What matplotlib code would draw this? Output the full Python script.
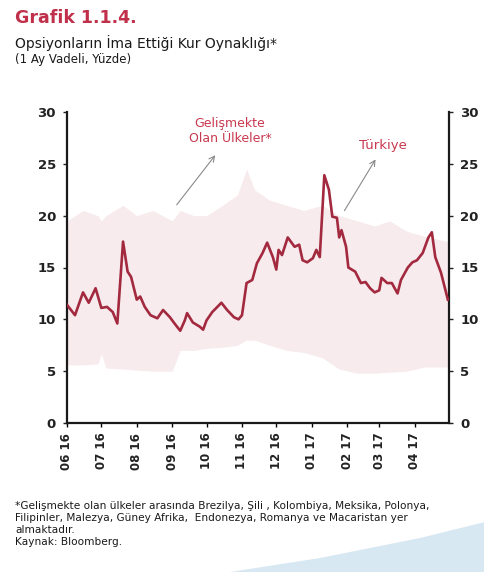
import matplotlib
matplotlib.use("Agg")
import matplotlib.pyplot as plt
from matplotlib.patches import Polygon
import pandas as pd

# ---- data ----
tr_dates = ["2016-06-01","2016-06-08","2016-06-15","2016-06-20","2016-06-26","2016-07-01",
            "2016-07-06","2016-07-11","2016-07-15","2016-07-20","2016-07-24","2016-07-27",
            "2016-08-01","2016-08-04","2016-08-08","2016-08-13","2016-08-19","2016-08-24",
            "2016-08-30","2016-09-03","2016-09-08","2016-09-12","2016-09-14","2016-09-19",
            "2016-09-25","2016-09-28","2016-10-01","2016-10-06","2016-10-14","2016-10-19",
            "2016-10-25","2016-10-29","2016-11-01","2016-11-05","2016-11-10","2016-11-14",
            "2016-11-19","2016-11-23","2016-11-28","2016-12-01","2016-12-03","2016-12-06",
            "2016-12-11","2016-12-17","2016-12-21","2016-12-24","2016-12-28","2017-01-02",
            "2017-01-05","2017-01-08","2017-01-12","2017-01-16","2017-01-19","2017-01-23",
            "2017-01-25","2017-01-27","2017-01-31","2017-02-02","2017-02-08","2017-02-13",
            "2017-02-17","2017-02-21","2017-02-25","2017-03-01","2017-03-03","2017-03-08",
            "2017-03-12","2017-03-17","2017-03-20","2017-03-26","2017-03-30","2017-04-03",
            "2017-04-08","2017-04-13","2017-04-16","2017-04-19","2017-04-24","2017-04-30"]
turkiye = [11.4,10.4,12.6,11.6,13.0,11.1,
           11.2,10.7,9.6,17.5,14.6,14.1,
           11.9,12.2,11.2,10.4,10.1,10.9,
           10.2,9.6,8.9,9.9,10.6,9.7,
           9.3,9.0,9.9,10.7,11.6,10.9,
           10.2,10.0,10.4,13.5,13.8,15.4,
           16.4,17.4,16.0,14.8,16.7,16.2,
           17.9,17.0,17.2,15.7,15.5,15.9,
           16.7,16.0,23.9,22.5,19.9,19.8,
           17.9,18.6,17.0,15.0,14.6,13.5,
           13.6,13.0,12.6,12.8,14.0,13.5,
           13.5,12.5,13.8,15.0,15.5,15.7,
           16.4,17.9,18.4,16.0,14.5,11.9]

band_dates = ["2016-06-01","2016-06-15","2016-06-28","2016-07-01","2016-07-05","2016-07-20",
              "2016-08-01","2016-08-15","2016-09-01","2016-09-08","2016-09-20","2016-10-01",
              "2016-10-15","2016-10-28","2016-11-05","2016-11-12","2016-11-25","2016-12-10",
              "2016-12-25","2017-01-10","2017-01-25","2017-02-10","2017-02-25","2017-03-10",
              "2017-03-25","2017-04-10","2017-04-30"]
em_low  = [5.6,5.6,5.7,6.7,5.3,5.2,
           5.1,5.0,5.0,7.0,7.0,7.2,
           7.3,7.5,8.0,8.0,7.5,7.0,
           6.8,6.3,5.2,4.8,4.8,4.9,
           5.0,5.4,5.4]
em_high = [19.5,20.5,20.0,19.5,20.0,21.0,
           20.0,20.5,19.5,20.5,20.0,20.0,
           21.0,22.0,24.5,22.5,21.5,21.0,
           20.5,21.0,20.0,19.5,19.0,19.5,
           18.5,18.0,17.5]

tick_dates = ["2016-06-01","2016-07-01","2016-08-01","2016-09-01","2016-10-01","2016-11-01",
              "2016-12-01","2017-01-01","2017-02-01","2017-03-01","2017-04-01"]
tick_labels = ["06 16","07 16","08 16","09 16","10 16","11 16",
               "12 16","01 17","02 17","03 17","04 17"]
y_ticks = [0, 5, 10, 15, 20, 25, 30]

# ---- figure ----
W, H = 485, 572
fig = plt.figure(figsize=(W/100, H/100), dpi=100)
fig.patch.set_facecolor("white")

ax = fig.add_axes([67/W, 1-423/H, (449-67)/W, (423-112)/H])
bd = pd.to_datetime(band_dates)
td = pd.to_datetime(tr_dates)
ax.fill_between(bd, em_low, em_high, color="#f7ebed", lw=0, zorder=1)
ax.plot(td, turkiye, color="#a3293f", lw=1.9, zorder=3)

ax.set_xlim(pd.Timestamp("2016-06-01"), pd.Timestamp("2017-05-01"))
ax.set_ylim(0, 30)
ax.set_yticks(y_ticks)
ax.set_xticks(pd.to_datetime(tick_dates))
ax.set_xticklabels(tick_labels, rotation=90, fontsize=8.5, fontweight="bold", color="#222222")
ax.tick_params(axis="y", labelright=True, right=True, labelsize=9.5, colors="#222222",
               length=3, width=1, direction="out", pad=5)
for lab in ax.get_yticklabels() + ax.get_yticklabels(which="both"):
    lab.set_fontweight("bold")
for lab in ax.yaxis.get_ticklabels(minor=False):
    lab.set_fontweight("bold")
ax.tick_params(axis="x", length=3, width=1, direction="out", pad=4)
ax.spines["top"].set_visible(False)
for s in ["left", "right", "bottom"]:
    ax.spines[s].set_linewidth(1.6)
    ax.spines[s].set_color("#1a1a1a")

# annotations
red = "#c8384f"
ax.annotate("", xy=(217/W, 1-153/H), xycoords="figure fraction",
            xytext=(175/W, 1-207/H), textcoords="figure fraction",
            arrowprops=dict(arrowstyle="->", color="#8a8a8a", lw=0.8))
fig.text(230/W, 1-131/H, "Gelişmekte\nOlan Ülkeler*", color=red, fontsize=9,
         ha="center", va="center", linespacing=1.25)
ax.annotate("", xy=(377/W, 1-157/H), xycoords="figure fraction",
            xytext=(343/W, 1-213/H), textcoords="figure fraction",
            arrowprops=dict(arrowstyle="->", color="#8a8a8a", lw=0.8))
fig.text(383/W, 1-146/H, "Türkiye", color=red, fontsize=9.5, ha="center", va="center")

# titles
fig.text(15/W, 1-18/H, "Grafik 1.1.4.", color="#c0304a", fontsize=12.5,
         fontweight="bold", ha="left", va="center")
fig.text(15/W, 1-43/H, "Opsiyonların İma Ettiği Kur Oynaklığı*", color="#1a1a1a",
         fontsize=10, ha="left", va="center")
fig.text(15/W, 1-60/H, "(1 Ay Vadeli, Yüzde)", color="#1a1a1a",
         fontsize=8.5, ha="left", va="center")

# decorative swoosh
swoosh = Polygon([(230/W, 0), (320/W, 14/H), (420/W, 34/H), (485/W, 50/H), (485/W, 0)],
                 closed=True, transform=fig.transFigure, facecolor="#d8e8f3",
                 edgecolor="none", zorder=0)
fig.patches.append(swoosh)

# footnote
foot = ["*Gelişmekte olan ülkeler arasında Brezilya, Şili , Kolombiya, Meksika, Polonya,",
        "Filipinler, Malezya, Güney Afrika,  Endonezya, Romanya ve Macaristan yer",
        "almaktadır.",
        "Kaynak: Bloomberg."]
for i, line in enumerate(foot):
    fig.text(15/W, 1-(506+12*i)/H, line, color="#1a1a1a", fontsize=7.6,
             ha="left", va="center")

fig.savefig("out.png", dpi=100)
